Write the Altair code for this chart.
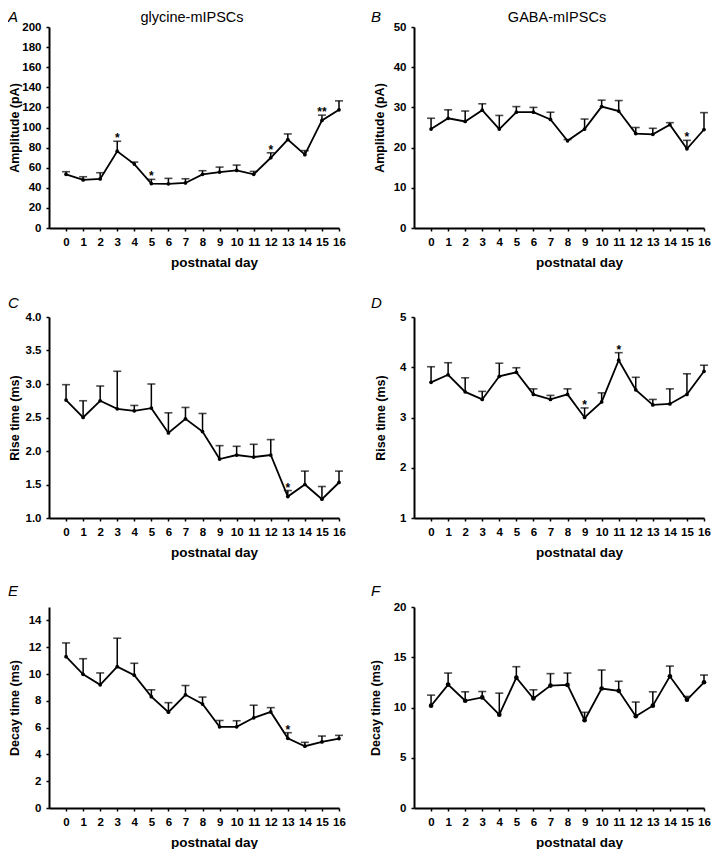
import altair as alt
import pandas as pd

days = list(range(17))
day_ticks = list(range(17))

# A: glycine amplitude (pA)
gly_amp = [53.4, 47.8, 48.8, 76.4, 63.6, 44.2, 44.0, 44.8, 53.4, 55.7, 57.3, 53.4, 69.9, 88.0, 73.0, 107.0, 117.6]
gly_amp_top = [56.0, 51.0, 55.0, 86.3, 65.6, 48.4, 49.4, 49.0, 57.0, 60.6, 62.6, 56.3, 74.8, 93.6, 77.0, 112.3, 126.5]
gly_amp_stars = {3: "*", 5: "*", 12: "*", 15: "**"}

# B: GABA amplitude (pA)
gaba_amp = [24.6, 27.3, 26.5, 29.3, 24.6, 28.8, 28.8, 27.0, 21.7, 24.6, 30.2, 29.1, 23.5, 23.3, 25.7, 19.7, 24.5]
gaba_amp_top = [27.3, 29.4, 29.1, 30.9, 28.0, 30.2, 30.0, 28.8, 22.0, 27.1, 31.8, 31.7, 25.0, 24.8, 26.2, 21.8, 28.7]
gaba_amp_stars = {15: "*"}

# C: glycine rise time (ms)
gly_rise = [2.76, 2.50, 2.75, 2.63, 2.60, 2.64, 2.27, 2.48, 2.29, 1.88, 1.94, 1.91, 1.94, 1.32, 1.50, 1.28, 1.53]
gly_rise_top = [2.99, 2.75, 2.97, 3.19, 2.68, 3.00, 2.57, 2.65, 2.56, 2.08, 2.07, 2.10, 2.17, 1.41, 1.70, 1.47, 1.70]
gly_rise_stars = {13: "*"}

# D: GABA rise time (ms)
gaba_rise = [3.70, 3.85, 3.51, 3.36, 3.82, 3.90, 3.46, 3.36, 3.46, 3.00, 3.31, 4.14, 3.55, 3.25, 3.27, 3.46, 3.92]
gaba_rise_top = [4.01, 4.09, 3.79, 3.52, 4.08, 3.99, 3.57, 3.44, 3.57, 3.19, 3.49, 4.29, 3.80, 3.36, 3.57, 3.87, 4.04]
gaba_rise_stars = {9: "*", 11: "*"}

# E: glycine decay time (ms)
gly_decay = [11.29, 9.98, 9.19, 10.55, 9.91, 8.31, 7.15, 8.45, 7.76, 6.06, 6.06, 6.73, 7.17, 5.20, 4.61, 4.93, 5.18]
gly_decay_top = [12.32, 11.14, 10.08, 12.67, 10.80, 8.82, 7.86, 9.14, 8.28, 6.53, 6.51, 7.67, 7.49, 5.62, 4.90, 5.37, 5.42]
gly_decay_stars = {13: "*"}

# F: GABA decay time (ms)
gaba_decay = [10.18, 12.28, 10.67, 11.00, 9.29, 12.97, 10.90, 12.18, 12.25, 8.74, 11.89, 11.66, 9.13, 10.18, 13.10, 10.77, 12.51]
gaba_decay_top = [11.23, 13.43, 11.56, 11.59, 11.43, 14.06, 11.76, 13.37, 13.43, 9.52, 13.73, 12.61, 10.54, 11.56, 14.12, 11.10, 13.23]
gaba_decay_stars = {}

FONT = "Liberation Sans, Arial, Helvetica, sans-serif"
W, H = 290, 201


def panel(letter, ytitle, mean, top, stars, domain, ticks, fmt, title_x,
          letter_x, letter_y, pt_size, head=None):
    df = pd.DataFrame({"day": days, "mean": mean, "top": top})
    xs = alt.Scale(domain=[-1, 16], nice=False, zero=False)
    ys = alt.Scale(domain=domain, nice=False, zero=False)
    xaxis = alt.Axis(values=day_ticks, format="d", title="postnatal day",
                     tickSize=3, labelPadding=5, titlePadding=8,
                     titleX=round(0.57 * W), labelFlush=False, labelOverlap=False)
    yaxis = alt.Axis(values=ticks, format=fmt, title=ytitle,
                     tickSize=3, labelPadding=5, titleX=title_x,
                     titleBaseline="middle", labelFlush=False,
                     labelOverlap=False)

    def X(field):
        return alt.X(field, type="quantitative", scale=xs, axis=xaxis)

    def Y(field):
        return alt.Y(field, type="quantitative", scale=ys, axis=yaxis)

    base = alt.Chart(df)
    line = base.mark_line(color="black", strokeWidth=1.8).encode(
        x=X("day"), y=Y("mean"))
    rule = base.mark_rule(color="black", strokeWidth=1.5).encode(
        x=X("day"), y=Y("mean"), y2="top:Q")
    cap = base.mark_tick(color="black", orient="horizontal", size=8,
                         thickness=1.6).encode(x=X("day"), y=Y("top"))
    pts = base.mark_point(filled=True, color="black", size=pt_size,
                          opacity=1).encode(x=X("day"), y=Y("mean"))
    layers = [line, rule, cap, pts]
    if stars:
        sdf = pd.DataFrame({"day": list(stars.keys()),
                            "top": [top[d] for d in stars.keys()],
                            "s": list(stars.values())})
        st = alt.Chart(sdf).mark_text(font=FONT, fontSize=12, fontWeight="bold",
                                      baseline="alphabetic", dy=1,
                                      color="black").encode(
            x=X("day"), y=Y("top"), text="s:N")
        layers.append(st)
    ldf = pd.DataFrame({"t": [letter]})
    lt = alt.Chart(ldf).mark_text(font=FONT, fontSize=15, fontStyle="italic",
                                  align="left", baseline="alphabetic",
                                  color="black").encode(
        x=alt.value(letter_x), y=alt.value(letter_y), text="t:N")
    layers.append(lt)
    if head:
        hdf = pd.DataFrame({"t": [head]})
        ht = alt.Chart(hdf).mark_text(font=FONT, fontSize=14.5,
                                      fontWeight="normal", align="center",
                                      baseline="alphabetic",
                                      color="black").encode(
            x=alt.value(W / 2 - 2), y=alt.value(-5), text="t:N")
        layers.append(ht)
    return alt.layer(*layers).properties(width=W, height=H)


A = panel("A", "Amplitude (pA)", gly_amp, gly_amp_top, gly_amp_stars,
          [0, 200], list(range(0, 201, 20)), "d", -35, -41, -5, 14,
          head="glycine-mIPSCs")
B = panel("B", "Amplitude (pA)", gaba_amp, gaba_amp_top, gaba_amp_stars,
          [0, 50], list(range(0, 51, 10)), "d", -35, -43, -5, 14,
          head="GABA-mIPSCs")
C = panel("C", "Rise time (ms)", gly_rise, gly_rise_top, gly_rise_stars,
          [1, 4], [1.0, 1.5, 2.0, 2.5, 3.0, 3.5, 4.0], ".1f", -35, -41, -9, 14)
D = panel("D", "Rise time (ms)", gaba_rise, gaba_rise_top, gaba_rise_stars,
          [1, 5], [1, 2, 3, 4, 5], "d", -34, -43, -9, 14)
E = panel("E", "Decay time (ms)", gly_decay, gly_decay_top, gly_decay_stars,
          [0, 15], list(range(0, 15, 2)), "d", -35, -41, -11, 14)
F = panel("F", "Decay time (ms)", gaba_decay, gaba_decay_top, gaba_decay_stars,
          [0, 20], [0, 5, 10, 15, 20], "d", -39, -43, -11, 22)

chart = alt.concat(A, B, C, D, E, F, columns=2,
                   spacing={"row": 89, "column": 75}, bounds="flush").properties(
    padding={"left": 0, "top": 2, "right": 0, "bottom": 0}
).configure_view(strokeWidth=0).configure_axis(
    grid=False, domainColor="black", domainWidth=2, tickColor="black",
    tickWidth=1.5, labelColor="black", titleColor="black",
    labelFont=FONT, titleFont=FONT, labelFontWeight="bold",
    titleFontWeight="bold", labelFontSize=11.5, titleFontSize=12.5
).configure_axisX(titleFontSize=13.5)

chart.save("out.html", embed_options={"renderer": "svg", "actions": False})
